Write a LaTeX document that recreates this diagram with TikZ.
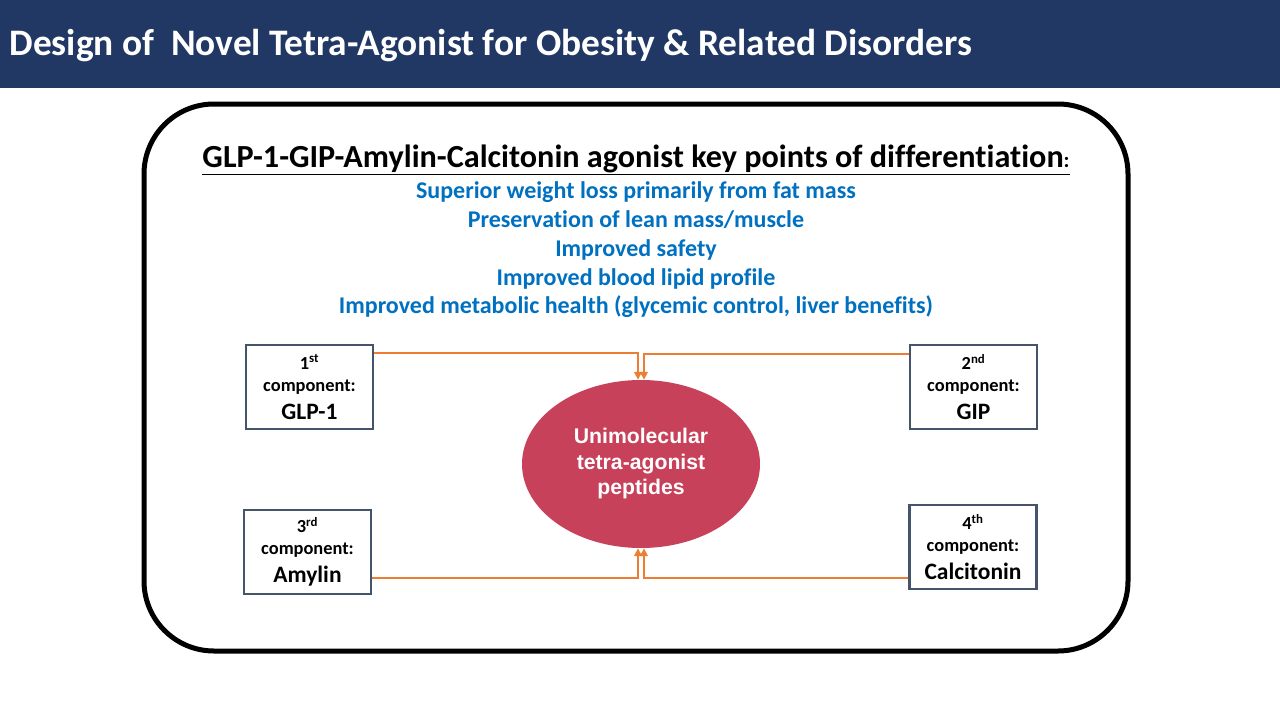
\documentclass[tikz,border=0pt]{standalone}
\usepackage{fontspec}
\setmainfont{Carlito}[Ligatures=CommonOff]
\newfontfamily\arialfont{Liberation Sans}
\usetikzlibrary{arrows.meta,positioning,calc,shapes.geometric}
\definecolor{navy}{RGB}{33,56,100}
\definecolor{ptblue}{RGB}{0,112,192}
\definecolor{slate}{RGB}{68,84,106}
\definecolor{rose}{RGB}{200,65,90}
\definecolor{ornge}{RGB}{237,125,49}
\tikzset{
  compbox/.style ={draw=slate, line width=2.5pt, fill=white, minimum width=127pt,
                   minimum height=84pt, align=center, inner sep=0pt,
                   font=\bfseries\fontsize{18.4}{22}\selectfont},
  pointtxt/.style={text=ptblue, align=center, font=\bfseries\fontsize{24}{28.75}\selectfont},
  conn/.style    ={draw=ornge, line width=2pt, -{Triangle[length=8pt,width=7.5pt]}},
}
\newcommand{\cname}[1]{{\fontsize{23.5}{28}\selectfont #1}}

\begin{document}
\begin{tikzpicture}[x=1pt, y=-1pt]
\fill[white] (0,0) rectangle (1280,720);
\fill[navy] (0,0) rectangle (1280,88);
\node[anchor=west, text=white, font=\bfseries\fontsize{37.4}{42}\selectfont] (title) at (6,46)
  {Design of \ Novel Tetra-Agonist for Obesity \& Related Disorders};
% frame
\draw[line width=5pt, rounded corners=70pt] (144,104) rectangle (1128,651);
\node[font=\bfseries\fontsize{32.2}{34}\selectfont] (head) at (636,160)
  {\underline{GLP-1-GIP-Amylin-Calcitonin agonist key points of differentiation{\fontsize{21.5}{22}\selectfont:}}};
\node[pointtxt] (points) at (636,250) {Superior weight loss primarily from fat mass\\
  Preservation of lean mass/muscle\\Improved safety\\Improved blood lipid profile\\
  Improved metabolic health (glycemic control, liver benefits)};
% components
\node[compbox] (c1) at (309.5,387) {1\textsuperscript{st}\\component:\\[6pt]\cname{GLP-1}};
\node[compbox] (c2) at (973.5,387) {2\textsuperscript{nd}\\component:\\[6pt]\cname{GIP}};
\node[compbox] (c3) at (307.5,552) {3\textsuperscript{rd}\\component:\\[6pt]\cname{Amylin}};
\node[compbox] (c4) at (973,547) {4\textsuperscript{th}\\component:\\[6pt]\cname{Calcitonin}};
\node[ellipse, fill=rose, minimum width=238pt, minimum height=168pt, text=white, align=center,
      font=\arialfont\bfseries\fontsize{21.2}{25.5}\selectfont] (pep) at (641,464)
  {Unimolecular\\tetra-agonist\\peptides};
\draw[conn] ([yshift=-9pt]c1.north east) -| ([xshift=-3pt]pep.north);
\draw[conn] ([yshift=-10pt]c2.north west) -| ([xshift=3pt]pep.north);
\draw[conn] ([yshift=17pt]c3.south east) -| ([xshift=-3pt]pep.south);
\draw[conn] ([yshift=12pt]c4.south west) -| ([xshift=3pt]pep.south);
\end{tikzpicture}
\end{document}
